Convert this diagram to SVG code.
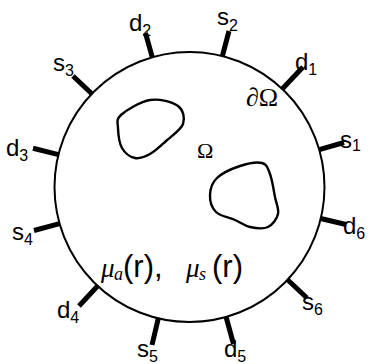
<svg xmlns="http://www.w3.org/2000/svg" width="372" height="364" viewBox="0 0 372 364">
<style>
.ln{fill:none;stroke:#000;stroke-width:2}
.blob{fill:none;stroke:#000;stroke-width:2.4;stroke-linejoin:round}
.tick{stroke:#000;stroke-width:5;stroke-linecap:butt}
.lab{font-family:"Liberation Sans",Arial,sans-serif;font-size:24px;fill:#000}
.sub{font-family:"Liberation Sans",Arial,sans-serif;font-size:16px;fill:#000}
.gr{font-family:"Liberation Serif","Times New Roman",serif;font-size:22px;fill:#000}
.gr2{font-family:"Liberation Serif","Times New Roman",serif;font-size:26px;fill:#000}
.mu{font-family:"Liberation Serif","Times New Roman",serif;font-style:italic;font-size:27px}
.musub{font-family:"Liberation Serif","Times New Roman",serif;font-style:italic;font-size:18px}
.sf{font-family:"Liberation Sans",Arial,sans-serif;font-size:31px}
</style>
<rect width="372" height="364" fill="#fff"/>
<g id="domain">
<circle class="ln" cx="189.5" cy="187" r="135"/>
</g>
<g id="inclusion1">
<path class="blob" d="M121,115 C126.3,110.3 140.5,101.5 150,100 C159.5,98.5 172.5,102 178,106 C183.5,110 185,118.2 183,124 C181,129.8 171.5,136 166,141 C160.5,146 155.2,151.2 150,154 C144.8,156.8 139.7,159 135,158 C130.3,157 124.8,153 122,148 C119.2,143 118.2,133.5 118,128 C117.8,122.5 115.7,119.7 121,115 Z"/>
</g>
<g id="inclusion2">
<path class="blob" d="M240,166 C247.5,163.5 257,161.7 262,163 C267,164.3 267.8,168.3 270,174 C272.2,179.7 273.7,190.3 275,197 C276.3,203.7 279.2,209 278,214 C276.8,219 272.7,224.8 268,227 C263.3,229.2 255.5,228.2 250,227 C244.5,225.8 240.7,222.5 235,220 C229.3,217.5 220.2,216.2 216,212 C211.8,207.8 209.8,200.7 210,195 C210.2,189.3 212,182.8 217,178 C222,173.2 232.5,168.5 240,166 Z"/>
</g>
<g id="connectors">
<line class="tick" x1="152.3" y1="57.3" x2="145.5" y2="33"/>
<line class="tick" x1="222.4" y1="56" x2="229" y2="31"/>
<line class="tick" x1="282.2" y1="89" x2="303" y2="67"/>
<line class="tick" x1="319.3" y1="149.7" x2="344" y2="142.5"/>
<line class="tick" x1="320.7" y1="218.5" x2="346" y2="224.5"/>
<line class="tick" x1="287.6" y1="279.8" x2="307" y2="298"/>
<line class="tick" x1="226.1" y1="317" x2="233.5" y2="344"/>
<line class="tick" x1="158.3" y1="318.4" x2="152" y2="345"/>
<line class="tick" x1="97.6" y1="286" x2="79" y2="306"/>
<line class="tick" x1="59.5" y1="223.6" x2="34" y2="230.5"/>
<line class="tick" x1="58.5" y1="154.6" x2="33" y2="148.3"/>
<line class="tick" x1="91.8" y1="93.8" x2="73" y2="76"/>
</g>
<g id="d2"><text class="lab" x="129" y="31">d<tspan class="sub" dy="5">2</tspan></text></g>
<g id="s2"><text class="lab" x="217" y="25">s<tspan class="sub" dy="6">2</tspan></text></g>
<g id="d1"><text class="lab" x="295" y="70">d<tspan class="sub" dy="5">1</tspan></text></g>
<g id="s1"><text class="lab" x="340" y="148">s<tspan class="sub" dy="3">1</tspan></text></g>
<g id="d6"><text class="lab" x="343" y="234">d<tspan class="sub" dy="5">6</tspan></text></g>
<g id="s6"><text class="lab" x="302" y="310">s<tspan class="sub" dy="5">6</tspan></text></g>
<g id="d5"><text class="lab" x="224" y="357">d<tspan class="sub" dy="5">5</tspan></text></g>
<g id="s5"><text class="lab" x="137" y="357">s<tspan class="sub" dy="5">5</tspan></text></g>
<g id="d4"><text class="lab" x="57" y="318">d<tspan class="sub" dy="5">4</tspan></text></g>
<g id="s4"><text class="lab" x="12" y="240">s<tspan class="sub" dy="5">4</tspan></text></g>
<g id="d3"><text class="lab" x="6" y="156">d<tspan class="sub" dy="5">3</tspan></text></g>
<g id="s3"><text class="lab" x="53" y="71">s<tspan class="sub" dy="5">3</tspan></text></g>
<g id="boundary-label"><text class="gr2" x="246" y="106"><tspan font-style="italic">∂</tspan>Ω</text></g>
<g id="omega-label"><text class="gr" x="197" y="158">Ω</text></g>
<g id="coeff-label"><text y="277" fill="#000"><tspan class="mu" x="101">μ</tspan><tspan class="musub" x="114" dy="3">a</tspan><tspan class="sf" x="123" dy="-3">(r),</tspan><tspan class="mu" x="186">μ</tspan><tspan class="musub" x="199" dy="3">s</tspan><tspan class="sf" x="212" dy="-3">(r)</tspan></text></g>
</svg>
